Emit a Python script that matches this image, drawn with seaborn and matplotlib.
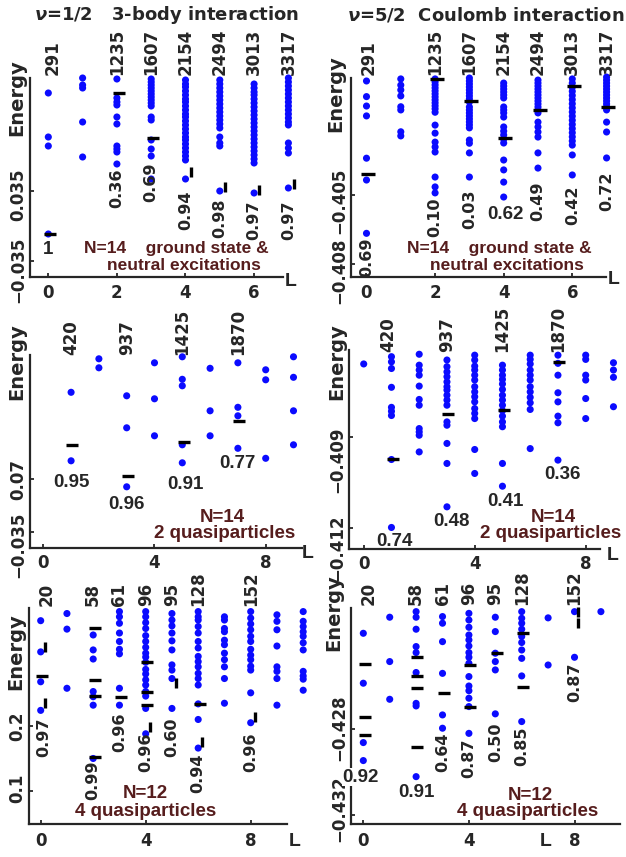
import matplotlib
matplotlib.use("Agg")
import matplotlib.pyplot as plt
from matplotlib.transforms import ScaledTranslation
import pandas as pd
import seaborn as sns

# ---------------- values ----------------
# panel 1: nu=1/2, 3-body interaction, N=14 ground state & neutral excitations
p1_L = [0, 1, 2, 3, 4, 5, 6, 7]
p1_E = [
    [0.133, 0.089, 0.080, -0.008],
    [0.148, 0.141, 0.138, 0.104, 0.069],
    [0.147, 0.128, 0.124, 0.121, 0.109, 0.102, 0.080, 0.077, 0.074, 0.062],
    [0.147, 0.144, 0.141, 0.138, 0.135, 0.132, 0.129, 0.126, 0.123, 0.120,
     0.109, 0.106, 0.086, 0.077, 0.070, 0.047],
    [0.146, 0.142, 0.139, 0.135, 0.131, 0.127, 0.124, 0.120, 0.116, 0.112, 0.109,
     0.105, 0.101, 0.097, 0.093, 0.089, 0.086, 0.082, 0.078, 0.074, 0.070, 0.066, 0.047],
    [0.146, 0.142, 0.138, 0.134, 0.130, 0.126, 0.122, 0.118, 0.114, 0.110, 0.106,
     0.102, 0.098, 0.089, 0.083, 0.080, 0.035],
    [0.142, 0.138, 0.134, 0.131, 0.127, 0.123, 0.119, 0.115, 0.111, 0.107, 0.103,
     0.099, 0.095, 0.091, 0.087, 0.083, 0.079, 0.075, 0.071, 0.067, 0.063, 0.033],
    [0.148, 0.144, 0.140, 0.136, 0.132, 0.128, 0.124, 0.120, 0.116, 0.112, 0.108,
     0.104, 0.101, 0.083, 0.078, 0.073, 0.038],
]
p1_mark_L = [0, 2, 3, 4, 5, 6, 7]
p1_mark_E = [-0.008, 0.133, 0.088, 0.054, 0.039, 0.036, 0.042]
p1_dim_L = [0, 2, 3, 4, 5, 6, 7]
p1_dims = ["291", "1235", "1607", "2154", "2494", "3013", "3317"]
p1_ovl_L = [0, 2, 3, 4, 5, 6, 7]
p1_ovl = ["1", "0.36", "0.69", "0.94", "0.98", "0.97", "0.97"]

# panel 2: nu=5/2, Coulomb interaction, N=14 ground state & neutral excitations
p2_L = [0, 1, 2, 3, 4, 5, 6, 7]
p2_E = [
    [-0.40004, -0.40072, -0.40113, -0.40156, -0.40340, -0.40435, -0.40667],
    [-0.39995, -0.40022, -0.40043, -0.40069, -0.40116, -0.40130, -0.40225, -0.40243],
    [-0.39995, -0.40008, -0.40021, -0.40034, -0.40047, -0.40060, -0.40073, -0.40086,
     -0.40099, -0.40112, -0.40125, -0.40140, -0.40196, -0.40231, -0.40270, -0.40291,
     -0.40313, -0.40422, -0.40465, -0.40491],
    [-0.39991, -0.40004, -0.40017, -0.40030, -0.40043, -0.40056, -0.40069, -0.40082,
     -0.40095, -0.40117, -0.40130, -0.40143, -0.40156, -0.40169, -0.40182, -0.40195,
     -0.40208, -0.40261, -0.40275, -0.40317, -0.40422],
    [-0.40013, -0.40026, -0.40039, -0.40052, -0.40065, -0.40078, -0.40117, -0.40130,
     -0.40143, -0.40161, -0.40204, -0.40222, -0.40239, -0.40257, -0.40274, -0.40348,
     -0.40391, -0.40444, -0.40509],
    [-0.40000, -0.40013, -0.40026, -0.40039, -0.40052, -0.40065, -0.40078, -0.40091,
     -0.40104, -0.40117, -0.40130, -0.40143, -0.40183, -0.40204, -0.40226, -0.40248,
     -0.40317, -0.40383],
    [-0.39995, -0.40013, -0.40031, -0.40049, -0.40067, -0.40085, -0.40103, -0.40121,
     -0.40139, -0.40157, -0.40175, -0.40193, -0.40211, -0.40229, -0.40247, -0.40265,
     -0.40283, -0.40326, -0.40413],
    [-0.39987, -0.40000, -0.40013, -0.40026, -0.40039, -0.40052, -0.40065, -0.40078,
     -0.40091, -0.40104, -0.40117, -0.40130, -0.40183, -0.40226, -0.40339],
]
p2_mark_L = [0, 2, 3, 4, 5, 6, 7]
p2_mark_E = [-0.40409, -0.39995, -0.40091, -0.40253, -0.40130, -0.40026, -0.40116]
p2_dim_L = [0, 2, 3, 4, 5, 6, 7]
p2_dims = ["291", "1235", "1607", "2154", "2494", "3013", "3317"]
p2_ovl_L = [0, 2, 3, 4, 5, 6, 7]
p2_ovl = ["0.69", "0.10", "0.03", "0.62", "0.49", "0.42", "0.72"]

# panel 3: nu=1/2, 3-body, N=14 two quasiparticles
p3_L = [1, 2, 3, 4, 5, 6, 7, 8, 9]
p3_E = [
    [0.244, 0.107],
    [0.311, 0.293],
    [0.237, 0.173, 0.055],
    [0.303, 0.231, 0.157],
    [0.315, 0.270, 0.257, 0.139, 0.103],
    [0.292, 0.207, 0.157],
    [0.303, 0.214, 0.197, 0.132],
    [0.289, 0.269, 0.112],
    [0.315, 0.274, 0.207, 0.139],
]
p3_mark_L = [1, 3, 5, 7]
p3_mark_E = [0.139, 0.077, 0.144, 0.187]
p3_dim_L = [1, 3, 5, 7]
p3_dims = ["420", "937", "1425", "1870"]
p3_ovl_L = [1, 3, 5, 7]
p3_ovl = ["0.95", "0.96", "0.91", "0.77"]

# panel 4: nu=5/2, Coulomb, N=14 two quasiparticles
p4_L = [0, 1, 2, 3, 4, 5, 6, 7, 8, 9]
p4_E = [
    [-0.40660],
    [-0.40636, -0.40653, -0.40675, -0.40737, -0.40803, -0.40816, -0.40830, -0.40975, -0.41199],
    [-0.40628, -0.40664, -0.40680, -0.40697, -0.40733, -0.40777, -0.40796, -0.40873,
     -0.40884, -0.40895, -0.40950],
    [-0.40647, -0.40669, -0.40686, -0.40702, -0.40719, -0.40735, -0.40746, -0.40763,
     -0.40779, -0.40796, -0.40851, -0.40862, -0.40922, -0.40988, -0.41131],
    [-0.40631, -0.40647, -0.40667, -0.40680, -0.40697, -0.40713, -0.40735, -0.40752,
     -0.40768, -0.40785, -0.40807, -0.40823, -0.40840, -0.40942, -0.41021],
    [-0.40664, -0.40680, -0.40697, -0.40711, -0.40726, -0.40744, -0.40763, -0.40779,
     -0.40796, -0.40814, -0.40832, -0.40851, -0.40867, -0.40988, -0.41063],
    [-0.40631, -0.40645, -0.40660, -0.40680, -0.40697, -0.40713, -0.40735, -0.40752,
     -0.40770, -0.40788, -0.40810, -0.40939],
    [-0.40631, -0.40658, -0.40697, -0.40755, -0.40785, -0.40832, -0.40854, -0.40977],
    [-0.40631, -0.40645, -0.40697, -0.40713, -0.40774, -0.40840],
    [-0.40656, -0.40680, -0.40704, -0.40801],
]
p4_mark_L = [1, 3, 5, 7]
p4_mark_E = [-0.40972, -0.40825, -0.40812, -0.40653]
p4_dim_L = [1, 3, 5, 7]
p4_dims = ["420", "937", "1425", "1870"]
p4_ovl_L = [1, 3, 5, 7]
p4_ovl = ["0.74", "0.48", "0.41", "0.36"]

# panel 5: nu=1/2, 3-body, N=12 four quasiparticles
p5_L = [0, 1, 2, 3, 4, 5, 6, 7, 8, 9, 10]
p5_E = [
    [0.362, 0.314, 0.268, 0.224],
    [0.373, 0.349, 0.258],
    [0.340, 0.317, 0.303, 0.253, 0.245, 0.232, 0.150],
    [0.376, 0.368, 0.358, 0.343, 0.330, 0.318, 0.311, 0.258, 0.232],
    [0.376, 0.368, 0.359, 0.350, 0.339, 0.330, 0.321, 0.312, 0.306, 0.298, 0.287,
     0.280, 0.271, 0.263, 0.253, 0.246, 0.227, 0.188],
    [0.373, 0.363, 0.354, 0.343, 0.331, 0.317, 0.294, 0.286, 0.273, 0.227],
    [0.376, 0.368, 0.363, 0.353, 0.343, 0.330, 0.320, 0.307, 0.299, 0.291, 0.281,
     0.273, 0.263, 0.234, 0.210, 0.166],
    [0.368, 0.363, 0.350, 0.345, 0.332, 0.325, 0.312, 0.302, 0.291, 0.273, 0.235],
    [0.376, 0.366, 0.357, 0.348, 0.338, 0.330, 0.318, 0.309, 0.302, 0.292, 0.286,
     0.251, 0.205],
    [0.371, 0.361, 0.348, 0.323, 0.291, 0.284, 0.273, 0.232],
    [0.376, 0.361, 0.353, 0.345, 0.338, 0.328, 0.317, 0.284, 0.277, 0.272, 0.255],
]
p5_mark_L = [0, 0, 0, 2, 2, 2, 2, 3, 4, 4, 4, 4, 5, 6, 6, 8]
p5_mark_E = [0.322, 0.277, 0.235, 0.350, 0.271, 0.246, 0.152, 0.245, 0.298, 0.253,
             0.232, 0.199, 0.266, 0.234, 0.176, 0.214]
p5_dim_L = [0, 2, 3, 4, 5, 6, 8]
p5_dims = ["20", "58", "61", "96", "95", "128", "152"]
p5_ovl_L = [0, 2, 3, 4, 5, 6, 8]
p5_ovl = ["0.97", "0.99", "0.96", "0.96", "0.60", "0.94", "0.96"]

# panel 6: nu=5/2, Coulomb, N=12 four quasiparticles
p6_L = [0, 1, 2, 3, 4, 5, 6, 7, 8, 9]
p6_E = [
    [-0.42352, -0.42585, -0.42862, -0.42946],
    [-0.42277, -0.42484, -0.42660],
    [-0.42251, -0.42277, -0.42333, -0.42414, -0.42442, -0.42535, -0.42679, -0.42691, -0.43021],
    [-0.42274, -0.42305, -0.42391, -0.42539, -0.42733, -0.42795],
    [-0.42259, -0.42290, -0.42324, -0.42360, -0.42383, -0.42411, -0.42442, -0.42464,
     -0.42492, -0.42554, -0.42598, -0.42620, -0.42655, -0.42694, -0.42819],
    [-0.42277, -0.42344, -0.42445, -0.42484, -0.42523, -0.42728],
    [-0.42251, -0.42282, -0.42305, -0.42333, -0.42367, -0.42395, -0.42430, -0.42469,
     -0.42551, -0.42764],
    [-0.42280, -0.42500],
    [-0.42251, -0.42464],
    [-0.42251],
]
p6_mark_L = [0, 0, 0, 2, 2, 2, 2, 3, 4, 4, 5, 6, 6, 8, 8]
p6_mark_E = [-0.42495, -0.42741, -0.42826, -0.42461, -0.42551, -0.42609, -0.42881,
             -0.42629, -0.42500, -0.42694, -0.42442, -0.42352, -0.42601, -0.42251, -0.42305]
p6_dim_L = [0, 2, 3, 4, 5, 6, 8]
p6_dims = ["20", "58", "61", "96", "95", "128", "152"]
p6_ovl_L = [0, 2, 3, 4, 5, 6, 8]
p6_ovl = ["0.92", "0.91", "0.64", "0.87", "0.50", "0.85", "0.87"]

# ---------------- styling ----------------
W, H = 626, 857
BLUE = "#0b0bff"
BROWN = "#561d1d"
NARROW = ["Liberation Sans", "DejaVu Sans"]

sns.set_style("ticks")
plt.rcParams["font.family"] = ["DejaVu Sans"]
plt.rcParams["font.weight"] = "bold"

fig = plt.figure(figsize=(W / 100, H / 100), dpi=100)


def fx(x):
    return x / W


def fy(y):
    return 1 - y / H


def panel(rect, L, E, xlim, ylim, xticks, yticks, yticklabels, xpad, yshift):
    l, t, r, b = rect
    ax = fig.add_axes([l / W, 1 - b / H, (r - l) / W, (b - t) / H])
    df = pd.DataFrame({
        "L": [lv for lv, col in zip(L, E) for _ in col],
        "Energy": [e for col in E for e in col],
    })
    sns.scatterplot(data=df, x="L", y="Energy", ax=ax, color=BLUE, s=26,
                    edgecolor="none", linewidth=0, clip_on=False, zorder=3)
    ax.set_xlim(xlim)
    ax.set_ylim(ylim)
    ax.set_xticks(xticks)
    ax.set_xticklabels([str(v) for v in xticks])
    ax.set_yticks(yticks)
    ax.set_yticklabels(yticklabels, rotation=90, va="center")
    ax.set_xlabel("")
    ax.set_ylabel("")
    sns.despine(ax=ax)
    for s in ["left", "bottom"]:
        ax.spines[s].set_linewidth(1.6)
    ax.tick_params(direction="in", length=3, width=1.3, labelsize=12)
    ax.tick_params(axis="x", pad=xpad)
    ax.tick_params(axis="y", pad=2)
    # the rotated tick labels sit a little below their ticks in the original
    for lab, dy in zip(ax.get_yticklabels(), yshift):
        lab.set_transform(lab.get_transform()
                          + ScaledTranslation(0, -dy / 100, fig.dpi_scale_trans))
    ax.patch.set_alpha(0)
    return ax


def marks(ax, L, E, kinds, s=72):
    for lv, e, k in zip(L, E, kinds):
        if k == "_":
            ax.scatter(lv + 0.05, e, marker="_", s=s, linewidths=2.4, color="black",
                       zorder=4, clip_on=False)
        else:
            ax.scatter(lv + 0.15, e, marker="|", s=45, linewidths=2.4, color="black",
                       zorder=4, clip_on=False)


def dims(ax, L, labels, y, dx):
    for lv, txt, d in zip(L, labels, dx):
        ax.text(lv + d, y, txt, rotation=90, ha="center", va="bottom", fontsize=12,
                clip_on=False, zorder=5)


def overlaps(ax, L, labels, spots):
    out = []
    for lv, txt, (d, y, rot) in zip(L, labels, spots):
        if rot:
            t = ax.text(lv + d, y, txt, rotation=90, ha="center", va="top", fontsize=11.5,
                        clip_on=False, zorder=5)
        else:
            t = ax.text(lv + d, y, txt, ha="center", va="center", fontsize=13.5,
                        family=NARROW, clip_on=False, zorder=5)
        out.append(t)
    return out


def caption(lines, size):
    for (x, y), txt in lines:
        fig.text(fx(x), fy(y), txt, ha="center", va="center", fontsize=size,
                 color=BROWN, family=NARROW)


# ---- panel 1
ax1 = panel((30, 78, 283, 277), p1_L, p1_E, (-0.534, 6.843), (-0.051, 0.148),
            [0, 2, 4, 6], [-0.035, 0.035], ["\u22120.035", "0.035"], 5, [9, 4])
marks(ax1, p1_mark_L, p1_mark_E, ["_", "_", "_", "|", "|", "|", "|"])
dims(ax1, p1_dim_L, p1_dims, 0.151, [0.14, 0, 0, 0, 0, 0, 0])
overlaps(ax1, p1_ovl_L, p1_ovl, [(0, -0.024, False), (0, 0.058, True), (0, 0.063, True),
                                 (0, 0.036, True), (0, 0.028, True), (0, 0.026, True),
                                 (0, 0.026, True)])
caption([((176, 249), "N=14    ground state &"), ((184, 265), "neutral excitations")], 12.5)

# ---- panel 2
ax2 = panel((351.3, 78, 606, 277), p2_L, p2_E, (-0.443, 6.983), (-0.40857, -0.39991),
            [0, 2, 4, 6], [-0.408, -0.405], ["\u22120.408", "\u22120.405"], 5, [7, 6])
marks(ax2, p2_mark_L, p2_mark_E, ["_"] * 7, s=110)
dims(ax2, p2_dim_L, p2_dims, -0.39978, [0.05, 0, 0, 0, 0, 0, 0])
overlaps(ax2, p2_ovl_L, p2_ovl, [(0.02, -0.40687, True), (0, -0.40509, True),
                                 (0, -0.40478, True), (0.04, -0.40587, False),
                                 (0, -0.40443, True), (0, -0.40457, True),
                                 (0, -0.40400, True)])
caption([((499, 249), "N=14    ground state &"), ((507, 265), "neutral excitations")], 12.5)

# ---- panel 3
ax3 = panel((30, 355, 302, 548.3), p3_L, p3_E, (-0.478, 9.306), (-0.068, 0.3186),
            [0, 4, 8], [-0.035, 0.07], ["\u22120.035", "0.07"], 4, [13, 0])
marks(ax3, p3_mark_L, p3_mark_E, ["_"] * 4)
dims(ax3, p3_dim_L, p3_dims, 0.3186, [0, 0, 0, 0])
overlaps(ax3, p3_ovl_L, p3_ovl, [(0, 0.063, False), (0, 0.019, False),
                                 (0.1, 0.059, False), (0, 0.101, False)])
caption([((222, 518), "N=14"), ((225, 534), "2 quasiparticles")], 13.5)

# ---- panel 4
ax4 = panel((349, 350, 600, 549.3), p4_L, p4_E, (-0.530, 8.515), (-0.41271, -0.40614),
            [0, 4, 8], [-0.412, -0.409], ["\u22120.412", "\u22120.409"], 4, [20, 23])
marks(ax4, p4_mark_L, p4_mark_E, ["_"] * 4)
dims(ax4, p4_dim_L, p4_dims, -0.40621, [-0.1, 0, 0, 0])
overlaps(ax4, p4_ovl_L, p4_ovl, [(0.1, -0.41244, False), (0.15, -0.41181, False),
                                 (0.1, -0.41112, False), (0.15, -0.41026, False)])
caption([((553, 518), "N=14"), ((551, 534), "2 quasiparticles")], 13.5)

# ---- panel 5
ax5 = panel((29.3, 608, 287, 824), p5_L, p5_E, (-0.434, 9.383), (0.0492, 0.3815),
            [0, 4, 8], [0.1, 0.2], ["0.1", "0.2"], 6, [-3, 0])
marks(ax5, p5_mark_L, p5_mark_E, ["|", "_", "|", "_", "_", "_", "_", "_", "_", "_",
                                  "_", "|", "|", "_", "|", "|"])
dims(ax5, p5_dim_L, p5_dims, 0.384, [0.24, 0, 0, 0, 0, 0, 0])
overlaps(ax5, p5_ovl_L, p5_ovl, [(0.1, 0.2138, True), (0, 0.147, True), (0, 0.2215, True),
                                 (0, 0.1892, True), (0, 0.2138, True), (0, 0.1570, True),
                                 (0, 0.1892, True)])
caption([((145, 794), "N=12"), ((146, 812), "4 quasiparticles")], 13.5)

# ---- panel 6
ax6 = panel((351.3, 608, 620, 824), p6_L, p6_E, (-0.455, 9.723), (-0.43242, -0.42234),
            [0, 4, 8], [-0.432, -0.428], ["\u22120.432", "\u22120.428"], 6, [-6, -2])
marks(ax6, p6_mark_L, p6_mark_E, ["_"] * 13 + ["|", "|"])
dims(ax6, p6_dim_L, p6_dims, -0.4222, [0.2, 0, 0, 0, 0, 0, 0])
t6 = overlaps(ax6, p6_ovl_L, p6_ovl, [(-0.09, -0.43023, False), (0, -0.43093, False),
                                      (0, -0.42817, True), (0, -0.42841, True),
                                      (0, -0.42766, True), (0, -0.42789, True),
                                      (0, -0.42486, True)])
t6[0].set_bbox(dict(facecolor="white", edgecolor="none", pad=0.5))
caption([((530, 795), "N=12"), ((528, 811), "4 quasiparticles")], 13.5)

# ---- shared annotations
fig.text(fx(167), fy(15), r"$\nu$=1/2   3-body interaction", ha="center", va="center",
         fontsize=13)
fig.text(fx(486), fy(15), r"$\nu$=5/2  Coulomb interaction", ha="center", va="center",
         fontsize=13)
for x, y in [(17, 98), (336, 94), (17, 362), (337, 362), (16, 652), (334, 613)]:
    fig.text(fx(x), fy(y), "Energy", rotation=90, ha="center", va="center", fontsize=14)
for x, y in [(291, 281), (614, 280), (308, 553), (613, 556), (295, 841), (546, 841)]:
    fig.text(fx(x), fy(y), "L", ha="center", va="center", fontsize=14, family=NARROW)

fig.savefig("out.png", dpi=100)
